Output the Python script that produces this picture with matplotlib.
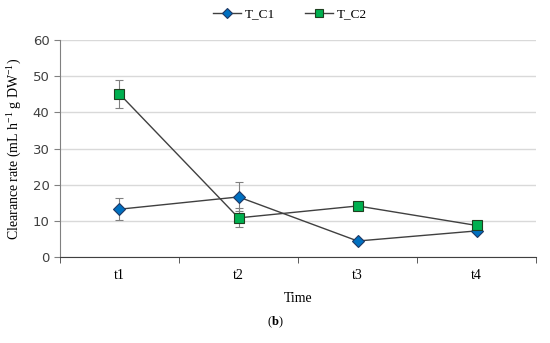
import matplotlib
matplotlib.use("Agg")
import matplotlib.pyplot as plt
from matplotlib.lines import Line2D
import numpy as np

categories = ["t1", "t2", "t3", "t4"]
c1_values = [13.2, 16.6, 4.4, 7.2]
c1_err = [3.0, 4.0, 0.4, 0.4]
c2_values = [45.1, 10.8, 14.1, 8.7]
c2_err = [4.0, 2.6, 0.8, 0.5]
yticks = [0, 10, 20, 30, 40, 50, 60]

plt.rcParams["mathtext.fontset"] = "custom"
plt.rcParams["mathtext.rm"] = "Liberation Serif"
plt.rcParams["mathtext.it"] = "Liberation Serif:italic"
plt.rcParams["mathtext.bf"] = "Liberation Serif:bold"

serif = ["Liberation Serif", "DejaVu Serif"]

fig = plt.figure(figsize=(5.5, 3.43), dpi=100)
ax = fig.add_axes([0.109, 0.251, 0.866, 0.632])
x = np.arange(len(categories))

c1_style = dict(color="#404040", lw=1.0, marker="D", markersize=6.5,
                markerfacecolor="#0070C0", markeredgecolor="#1F3864", markeredgewidth=0.8)
c2_style = dict(color="#404040", lw=1.0, marker="s", markersize=7.5,
                markerfacecolor="#00B050", markeredgecolor="#1F3F1F", markeredgewidth=0.8)

ax.errorbar(x, c1_values, yerr=c1_err, ecolor="#808080", elinewidth=0.8, capsize=3,
            capthick=0.8, zorder=3, **c1_style)
ax.errorbar(x, c2_values, yerr=c2_err, ecolor="#808080", elinewidth=0.8, capsize=3,
            capthick=0.8, zorder=4, **c2_style)

ax.set_xlim(-0.5, len(categories) - 0.5)
ax.set_ylim(0, 60)
ax.set_yticks(yticks)
ax.set_xticks(x)
ax.set_xticklabels(categories, fontfamily=serif, fontsize=10)
ax.set_xticks(np.arange(-0.5, len(categories), 1.0), minor=True)
ax.tick_params(axis="x", which="major", length=0, pad=9)
ax.tick_params(axis="x", which="minor", length=4, direction="out", color="#404040")
ax.tick_params(axis="y", length=4, direction="out", color="#808080", labelsize=9.5,
               labelcolor="#404040")
for lbl in ax.get_yticklabels():
    lbl.set_fontfamily("DejaVu Sans")

ax.grid(axis="y", color="#D9D9D9", lw=1.0)
ax.set_axisbelow(True)
for s in ["top", "right"]:
    ax.spines[s].set_visible(False)
ax.spines["left"].set_color("#808080")
ax.spines["bottom"].set_color("#404040")

ax.set_ylabel("Clearance rate (mL h$^{-1}$ g DW$^{-1}$)", fontfamily=serif, fontsize=10,
              labelpad=6)
ax.set_xlabel("Time", fontfamily=serif, fontsize=10, labelpad=7)

s1 = dict(c1_style); s1["markersize"] = 5
s2 = dict(c2_style); s2["markersize"] = 6
handles = [Line2D([], [], **s1), Line2D([], [], **s2)]
fig.legend(handles, ["T_C1", "T_C2"], loc="center", bbox_to_anchor=(0.527, 0.958), ncol=2,
           frameon=False, prop={"family": serif, "size": 9.5}, handlelength=2.1,
           columnspacing=2.3, handletextpad=0.3)

fig.text(0.5, 0.06, r"($\mathbf{b}$)", fontfamily=serif, fontsize=9, ha="center", va="center")

fig.savefig("out.png", dpi=100)
